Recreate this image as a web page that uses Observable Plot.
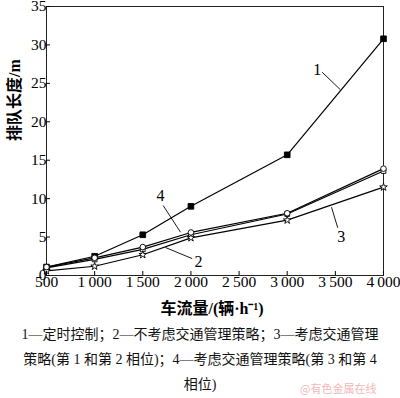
<!DOCTYPE html>
<html><head><meta charset="utf-8">
<script src="https://cdn.jsdelivr.net/npm/d3@7"></script>
<script src="https://cdn.jsdelivr.net/npm/@observablehq/plot@0.6"></script>
<style>
body{margin:0;background:#fff;}
#wrap{position:relative;width:400px;height:398px;overflow:hidden;}
#cap{font-family:"Liberation Serif","Noto Sans CJK SC",serif;font-size:14px;line-height:25px;text-align:center;color:#111;margin-top:0;}
#wm{position:absolute;left:300px;top:380px;font-family:"Noto Sans CJK SC",sans-serif;font-size:11px;color:#f2b8b8;}
</style></head>
<body><div id="wrap"><div id="chart"></div>
<div id="cap">1—定时控制；2—不考虑交通管理策略；3—考虑交通管理<br>策略(第 1 和第 2 相位)；4—考虑交通管理策略(第 3 和第 4<br>相位)</div>
<div id="wm">@有色金属在线</div></div>
<script>
const flows = [500, 1000, 1500, 2000, 3000, 4000];
const s1 = [1.1, 2.5, 5.3, 9.0, 15.7, 30.8];
const s2 = [1.0, 2.1, 3.4, 5.3, 8.0, 13.6];
const s3 = [0.6, 1.2, 2.7, 4.9, 7.2, 11.5];
const s4 = [1.1, 2.3, 3.7, 5.6, 8.1, 13.9];
const xTicks = [500, 1000, 1500, 2000, 2500, 3000, 3500, 4000];
const yTicks = [0, 5, 10, 15, 20, 25, 30, 35];
const labelNames = ["1", "4", "2", "3"];
const labelX = [3311, 1684, 2079, 3561];
const labelY = [26.7, 10.4, 1.8, 5.07];
const leadX1 = [3363, 1712, 1736, 3460];
const leadY1 = [26.45, 9.1, 3.64, 8.89];
const leadX2 = [3553, 1892, 2013, 3525];
const leadY2 = [24.16, 5.63, 2.2, 6.2];

const series = [
  {name: "1", vals: s1, symbol: "square", fill: "black", r: 3.2},
  {name: "2", vals: s2, symbol: "square", fill: "white", r: 2.7},
  {name: "3", vals: s3, symbol: "star", fill: "white", r: 2.4},
  {name: "4", vals: s4, symbol: "circle", fill: "white", r: 2.8}
];
const rows = series.flatMap(s => flows.map((f, i) => ({flow: f, v: s.vals[i], name: s.name})));
const labels = labelNames.map((n, i) => ({n, x: labelX[i], y: labelY[i], x1: leadX1[i], y1: leadY1[i], x2: leadX2[i], y2: leadY2[i]}));
const fmt = d => d >= 1000 ? `${Math.floor(d / 1000)}\u2009${String(d % 1000).padStart(3, "0")}` : `${d}`;

const marks = [Plot.frame({stroke: "#222", strokeWidth: 1})];
for (const s of series) {
  const data = rows.filter(r => r.name === s.name);
  marks.push(Plot.line(data, {x: "flow", y: "v", stroke: "black", strokeWidth: 1.2}));
}
for (const s of series) {
  const data = rows.filter(r => r.name === s.name);
  marks.push(Plot.dot(data, {x: "flow", y: "v", symbol: () => s.symbol, fill: s.fill, stroke: "black", strokeWidth: 0.9, r: s.r}));
}
marks.push(Plot.link(labels, {x1: "x1", y1: "y1", x2: "x2", y2: "y2", stroke: "black", strokeWidth: 0.9}));
marks.push(Plot.text(labels, {x: "x", y: "y", text: "n", fontSize: 16, fill: "black"}));
marks.push(Plot.axisX({ticks: xTicks, tickFormat: fmt, tickSize: -4, tickPadding: 4, fontSize: 15.5, label: null}));
marks.push(Plot.axisY({ticks: yTicks, tickSize: -4, tickPadding: 4, fontSize: 15.5, label: null}));
marks.push(Plot.text(["车流量/(辆·h⁻¹)"], {frameAnchor: "bottom", dy: 38, text: d => d, fontSize: 16, fontWeight: "bold", fill: "black", dx: -3}));
marks.push(Plot.text(["排队长度/m"], {frameAnchor: "left", dx: -32, dy: 0, rotate: -90, text: d => d, fontSize: 16, fontWeight: "bold", fill: "black"}));

const chart = Plot.plot({
  width: 400, height: 322,
  marginTop: 6, marginBottom: 47, marginLeft: 46, marginRight: 17,
  style: {fontFamily: "'Liberation Serif','Noto Sans CJK SC',serif", color: "black", background: "white", overflow: "visible"},
  x: {domain: [500, 4000]},
  y: {domain: [0, 35]},
  marks
});
document.getElementById("chart").appendChild(chart);
</script></body></html>
